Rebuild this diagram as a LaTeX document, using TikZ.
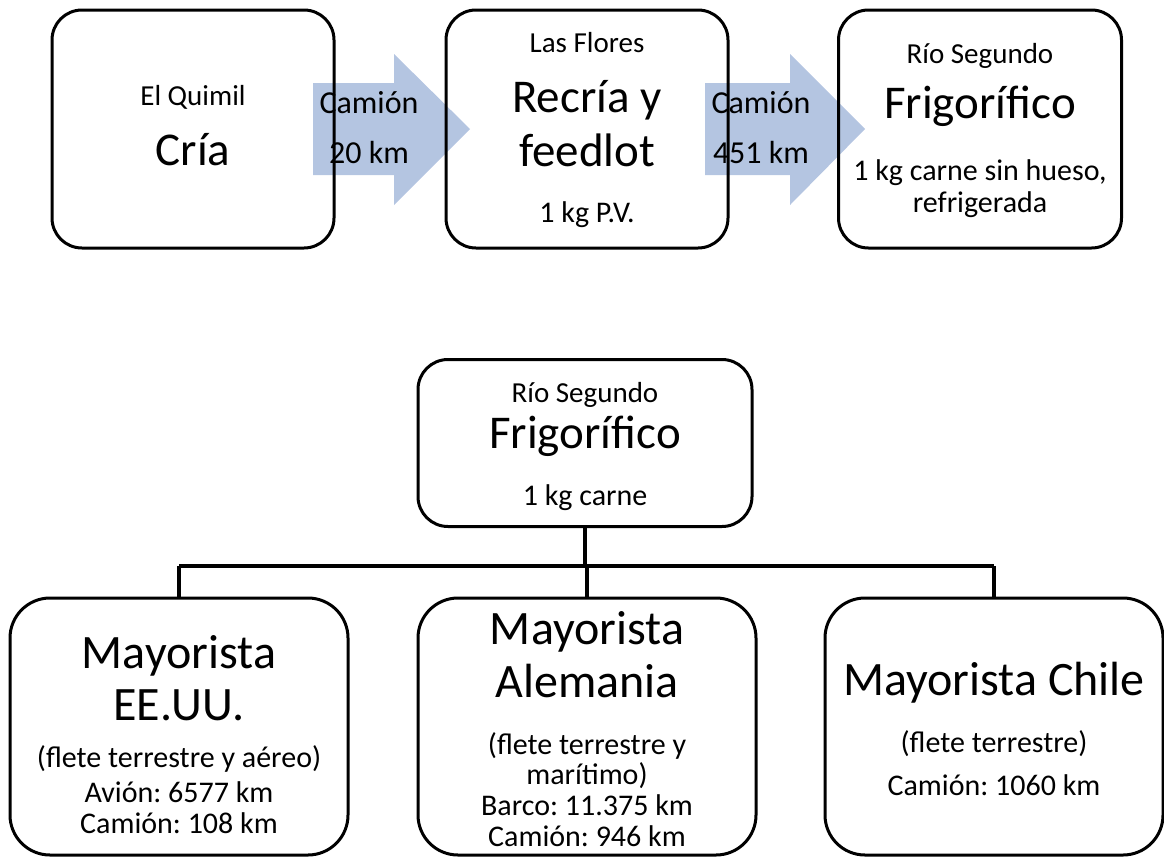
\documentclass[tikz,border=0pt]{standalone}
\usepackage{fontspec}
\setmainfont{Carlito}
\usepackage{xcolor}
\definecolor{arrow-blue}{RGB}{180,197,225}
\usepackage{tikz}
\usetikzlibrary{calc}
\frenchspacing
\newcommand{\fsS}{\fontsize{29}{34}\selectfont}
\newcommand{\fsM}{\fontsize{30}{36}\selectfont}
\newcommand{\fsA}{\fontsize{32}{38}\selectfont}
\newcommand{\fsL}{\fontsize{47}{54}\selectfont}
\newcommand{\fsX}{\fontsize{48}{56}\selectfont}

\begin{document}
\begin{tikzpicture}[x=1pt,y=-1pt,
	box/.style={draw,line width=3pt,rounded corners=30pt,inner sep=0pt},
	lbl/.style={inner sep=0pt,anchor=base}]
	\useasboundingbox (0,0) rectangle (1164,857);
	% arrows (behind boxes)
	\fill[arrow-blue] (313,83)--(394,83)--(394,54)--(470,129)--(394,205)
		--(394,175)--(313,175)--cycle;
	\fill[arrow-blue] (705,83)--(790,83)--(790,54)--(865,129)--(790,205)
		--(790,175)--(705,175)--cycle;
	
	% top row
	\node[box,minimum width=282pt,minimum height=238pt] (cria) at (193,129) {};
	\node[box,minimum width=282pt,minimum height=238pt] (recria) at (587,129) {};
	\node[box,minimum width=283pt,minimum height=238pt] (frigo) at (980,129) {};
	
	\path
		(193,105) node[lbl] (cria-a) {\fsS El Quimil}
		(193,165) node[lbl] (cria-b) {\fsL Cría}
		(587,52) node[lbl] (recria-a) {\fsS Las Flores}
		(587,112) node[lbl] (recria-b) {\fsL Recría y}
		(587,166) node[lbl] (recria-c) {\fsL feedlot}
		(587,222) node[lbl] (recria-d) {\fsM 1 kg P.V.}
		(980,63) node[lbl] (frigo-a) {\fsS Río Segundo}
		(980,118) node[lbl] (frigo-b) {\fsL Frigorífico}
		(980,180) node[lbl] (frigo-c) {\fsM 1 kg carne sin hueso,}
		(980,212) node[lbl] (frigo-d) {\fsM refrigerada}
		(369,113) node[lbl] (cam-a) {\fsA Camión}
		(369,163) node[lbl] (km-a) {\fsA 20 km}
		(761,113) node[lbl] (cam-b) {\fsA Camión}
		(761,163) node[lbl] (km-b) {\fsA 451 km};
	
	% bottom tree
	\node[box,minimum width=334pt,minimum height=167pt] (planta) at (585,443) {};
	\node[box,rounded corners=40pt,minimum width=338pt,minimum height=257pt]
		(usa) at (179,726.5) {};
	\node[box,rounded corners=40pt,minimum width=338pt,minimum height=257pt]
		(ale) at (587,726.5) {};
	\node[box,rounded corners=40pt,minimum width=338pt,minimum height=257pt]
		(chi) at (994,726.5) {};
	
	\coordinate (bar) at ($(planta.south)+(0,38)$);
	\draw[line width=4.5pt] (planta.south)--(bar);
	\draw[line width=4.5pt] (usa.north|-bar)--(chi.north|-bar);
	\foreach \n in {usa,ale,chi}
		\draw[line width=4.5pt] (\n.north|-bar)--(\n.north);
	
	\path
		(585,402) node[lbl] (planta-a) {\fsS Río Segundo}
		(585,448) node[lbl] (planta-b) {\fsL Frigorífico}
		(585,505) node[lbl] (planta-c) {\fsM 1 kg carne}
		(179,668) node[lbl] (usa-a) {\fsX Mayorista}
		(179,720) node[lbl] (usa-b) {\fsX EE.UU.}
		(179,767) node[lbl] (usa-c) {\fsM (flete terrestre y aéreo)}
		(179,802) node[lbl] (usa-d) {\fsM Avión: 6577 km}
		(179,833) node[lbl] (usa-e) {\fsM Camión: 108 km}
		(587,644) node[lbl] (ale-a) {\fsX Mayorista}
		(587,697) node[lbl] (ale-b) {\fsX Alemania}
		(587,754) node[lbl] (ale-c) {\fsM (flete terrestre y}
		(587,784) node[lbl] (ale-d) {\fsM marítimo)}
		(587,815) node[lbl] (ale-e) {\fsM Barco: 11.375 km}
		(587,846) node[lbl] (ale-f) {\fsM Camión: 946 km}
		(994,695) node[lbl] (chi-a) {\fsX Mayorista Chile}
		(994,752) node[lbl] (chi-b) {\fsM (flete terrestre)}
		(994,795) node[lbl] (chi-c) {\fsM Camión: 1060 km};
	
\end{tikzpicture}
\end{document}
